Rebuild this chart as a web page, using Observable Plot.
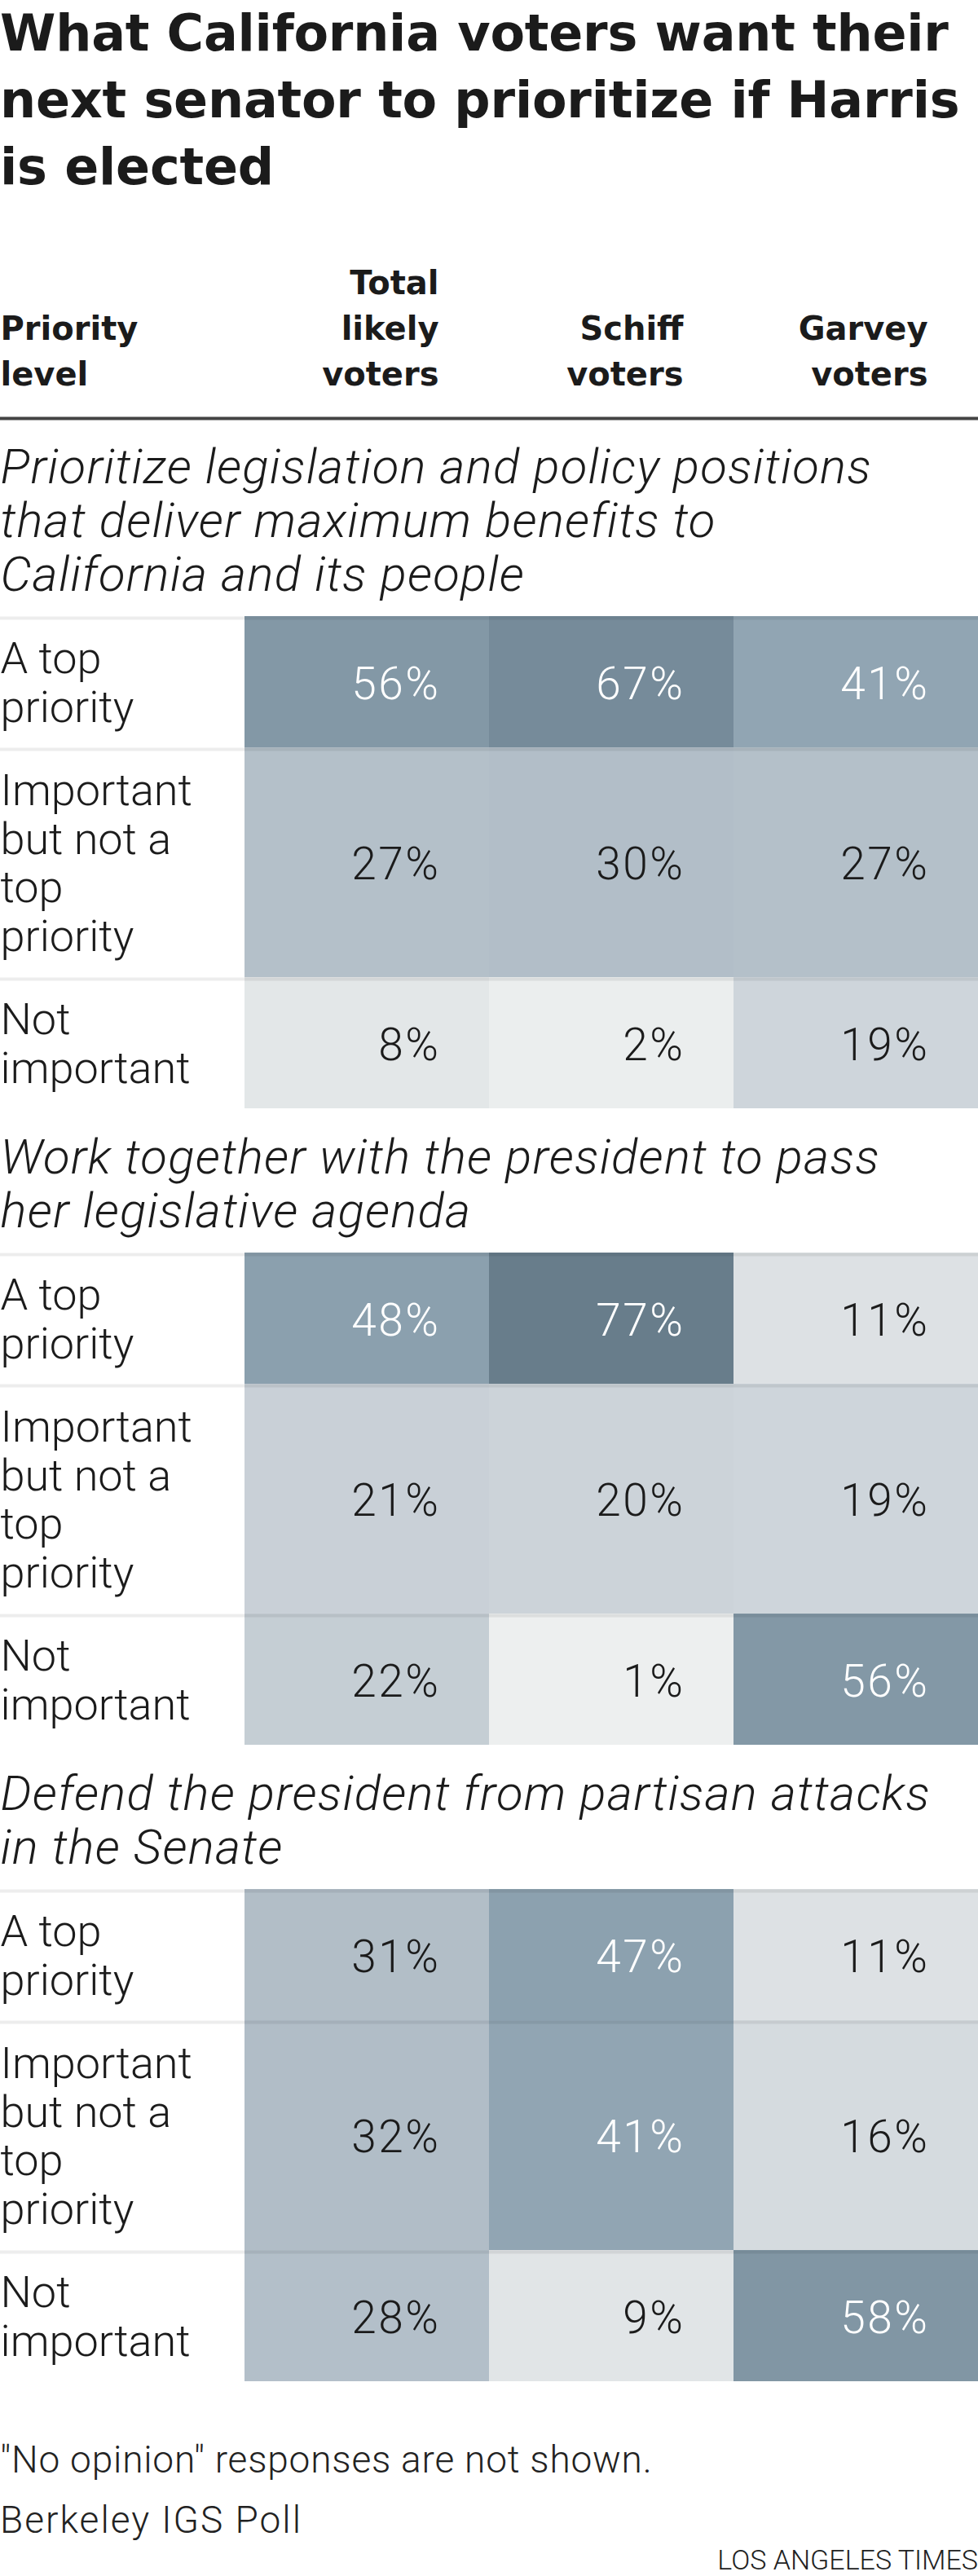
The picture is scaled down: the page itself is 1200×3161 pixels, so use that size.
<!DOCTYPE html>
<html>
<head>
<meta charset="utf-8">
<script src="https://cdn.jsdelivr.net/npm/d3@7"></script>
<script src="https://cdn.jsdelivr.net/npm/@observablehq/plot@0.6"></script>
<style>
  html, body { margin: 0; padding: 0; background: #fff; }
  body { width: 1200px; font-family: Roboto, "Noto Sans", sans-serif; color: #1b1b1b; }
  #title { height: 250px; margin: 0; font-family: "DejaVu Sans", Roboto, sans-serif; font-weight: 700; font-size: 62px; line-height: 82px; white-space: nowrap; letter-spacing: -0.2px; }
  #chart svg { display: block; }
  #chart g[font-style="italic"] { letter-spacing: 1.2px; }
  #chart g.values text { letter-spacing: 2.5px; }
  .note { font-weight: 300; font-size: 46px; line-height: 74px; color: #222; white-space: nowrap; letter-spacing: 0.8px; }
  #source { letter-spacing: 2px; }
  #credit { font-weight: 300; font-size: 34px; line-height: 40px; text-align: right; color: #222; margin-top: -8px; }
</style>
</head>
<body>
<h1 id="title">What California voters want their<br>next senator to prioritize if Harris<br>is elected</h1>
<div id="chart"></div>
<div class="note" style="margin-top:31px">"No opinion" responses are not shown.</div>
<div class="note" id="source">Berkeley IGS Poll</div>
<div id="credit">LOS ANGELES TIMES</div>
<script>
// ---- data ----
const columns = ["Total likely voters", "Schiff voters", "Garvey voters"];
const columnHeaders = ["Total\nlikely\nvoters", "Schiff\nvoters", "Garvey\nvoters"];
const firstColumnHeader = "Priority\nlevel";
const priorityLevels = ["A top priority", "Important but not a top priority", "Not important"];
const priorityLabels = ["A top\npriority", "Important\nbut not a\ntop\npriority", "Not\nimportant"];
const questions = [
  "Prioritize legislation and policy positions\nthat deliver maximum benefits to\nCalifornia and its people",
  "Work together with the president to pass\nher legislative agenda",
  "Defend the president from partisan attacks\nin the Senate"
];
// values per question, in priorityLevels order
const totalValues  = [[56, 27, 8], [48, 21, 22], [31, 32, 28]];
const schiffValues = [[67, 30, 2], [77, 20, 1], [47, 41, 9]];
const garveyValues = [[41, 27, 19], [11, 19, 56], [11, 16, 58]];

// ---- layout (derived from the data above) ----
const W = 1200, H = 2700, SVG_TOP = 250;
const LABEL = "label";
const ruleY = 513 - SVG_TOP;
const seriesByColumn = [totalValues, schiffValues, garveyValues];

const sectionTitles = [];
const rows = [];
const cells = [];
let cursor = ruleY;
questions.forEach((q, s) => {
  const nLines = q.split("\n").length;
  const lastBaseline = cursor + 79 + (nLines - 1) * 66;
  sectionTitles.push({text: q, y: lastBaseline});
  let top = lastBaseline + 32;
  priorityLabels.forEach((lab, r) => {
    const n = lab.split("\n").length;
    const h = 40 + 60.5 * n;
    const row = {section: s, level: priorityLevels[r], label: lab, top, bottom: top + h, mid: top + h / 2};
    rows.push(row);
    columns.forEach((c, ci) => {
      cells.push({col: c, top: row.top, bottom: row.bottom, mid: row.mid, value: seriesByColumn[ci][s][r]});
    });
    top += h;
  });
  cursor = top;
});

const columnHeaderData = columns.map((c, i) => ({col: c, text: columnHeaders[i]}));
const headerBaseline = 472 - SVG_TOP;

const txt = "#1b1b1b";
const plot = Plot.plot({
  width: W,
  height: H,
  margin: 0,
  x: {type: "band", domain: [LABEL, ...columns], range: [0, W], padding: 0, axis: null},
  y: {type: "linear", domain: [0, H], range: [0, H], axis: null},
  color: {
    type: "linear",
    domain: [0, 8, 11, 16, 20, 27, 32, 41, 48, 56, 67, 77],
    range: ["#eef0f0", "#e3e7e8", "#dde1e4", "#d5dbdf", "#ccd3d9", "#b4c0c9", "#b1bdc7", "#91a5b3", "#8ba0ae", "#8398a6", "#768b9a", "#687d8b"]
  },
  style: {fontFamily: "Roboto, 'Noto Sans', sans-serif", background: "#fff"},
  marks: [
    // header
    Plot.text([firstColumnHeader], {
      x: () => LABEL, y: () => headerBaseline, text: d => d,
      textAnchor: "start", dx: -150,
      lineAnchor: "bottom", lineHeight: 1.4,
      fontFamily: "'DejaVu Sans', Roboto, sans-serif",
      fontSize: 40, fontWeight: 700, fill: txt
    }),
    Plot.text(columnHeaderData, {
      x: "col", y: () => headerBaseline, text: "text",
      textAnchor: "end", dx: 88,
      lineAnchor: "bottom", lineHeight: 1.4,
      fontFamily: "'DejaVu Sans', Roboto, sans-serif",
      fontSize: 40, fontWeight: 700, fill: txt
    }),
    Plot.ruleY([ruleY], {stroke: "#444", strokeWidth: 4}),
    // section titles
    Plot.text(sectionTitles, {
      x: () => LABEL, y: "y", text: "text", textAnchor: "start", dx: -150,
      lineAnchor: "bottom", lineHeight: 1.1,
      fontSize: 60, fontWeight: 300, fontStyle: "italic", fill: txt
    }),
    // cells
    Plot.barY(cells, {x: "col", y1: "top", y2: "bottom", fill: "value", inset: 0}),
    // row separators
    Plot.ruleY(rows, {y: d => d.top + 2, stroke: "#000", strokeOpacity: 0.07, strokeWidth: 4}),
    // row labels
    Plot.text(rows, {
      x: () => LABEL, y: "mid", text: "label", textAnchor: "start", dx: -150,
      lineAnchor: "middle", lineHeight: 1.1,
      fontSize: 54, fontWeight: 300, fill: txt
    }),
    // values
    Plot.text(cells.filter(d => d.value < 40), {
      x: "col", y: "mid", text: d => d.value + "%", textAnchor: "end", dx: 90, dy: 3,
      fontSize: 55, fontWeight: 300, fill: txt, className: "values"
    }),
    Plot.text(cells.filter(d => d.value >= 40), {
      x: "col", y: "mid", text: d => d.value + "%", textAnchor: "end", dx: 90, dy: 3,
      fontSize: 55, fontWeight: 300, fill: "#fff", className: "values"
    })
  ]
});

document.getElementById("chart").appendChild(plot);
</script>
</body>
</html>
